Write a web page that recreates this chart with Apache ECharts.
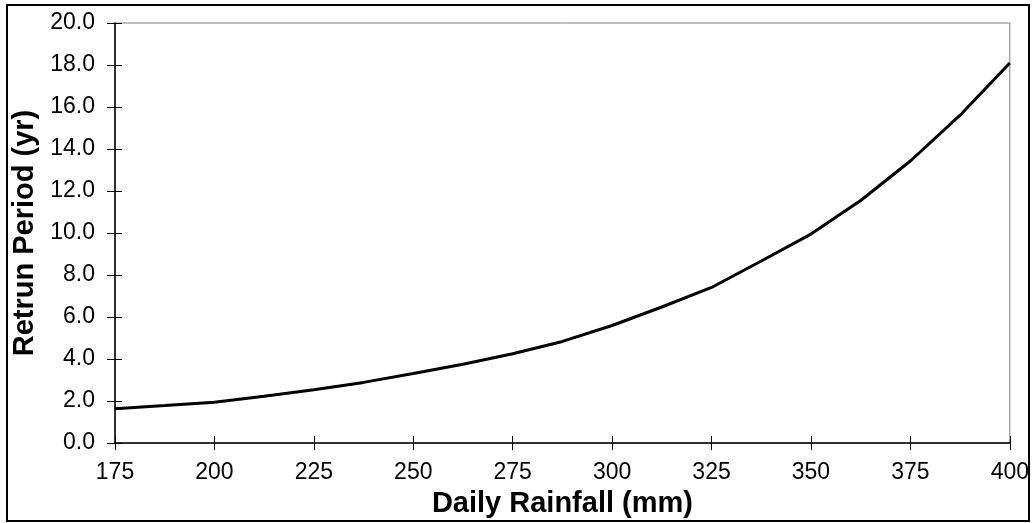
<!DOCTYPE html>
<html>
<head>
<meta charset="utf-8">
<script src="https://cdn.jsdelivr.net/npm/echarts@6/dist/echarts.min.js"></script>
<style>
  html, body { margin: 0; padding: 0; background: #fff; }
  #chart { width: 1032px; height: 523px; }
</style>
</head>
<body>
<div id="chart"></div>
<script>
// 日降雨量 (mm)
const rainfall = [175, 187.5, 200, 212.5, 225, 237.5, 250, 262.5, 275, 287.5, 300, 312.5, 325, 337.5, 350, 362.5, 375, 387.5, 400]
// 重现期 (yr)
const returnPeriod = [1.64, 1.79, 1.95, 2.23, 2.54, 2.89, 3.31, 3.75, 4.25, 4.84, 5.6, 6.48, 7.41, 8.67, 9.95, 11.55, 13.43, 15.61, 18.1]

const fontFamily = '"Liberation Sans", Arial, sans-serif'

let myChart = echarts.init(document.getElementById('chart'))
let points = rainfall.map((x, i) => [x, returnPeriod[i]])

let option = {
    animation: false,
    backgroundColor: '#fff',
    textStyle: { fontFamily: fontFamily },
    graphic: [
        {
            type: 'rect',
            shape: { x: 7, y: 5, width: 1022, height: 516 },
            style: { fill: 'none', stroke: '#000', lineWidth: 2 },
            z: 100
        }
    ],
    grid: {
        left: 115,
        right: 22,
        top: 23,
        bottom: 74,
        show: true,
        borderColor: '#808080',
        borderWidth: 1
    },
    xAxis: [
        {
            type: 'value',
            min: 175,
            max: 400,
            interval: 25,
            position: 'bottom',
            name: 'Daily Rainfall (mm)',
            nameLocation: 'middle',
            nameGap: 37,
            nameTextStyle: { fontSize: 29, fontWeight: 'bold', color: '#000', fontFamily: fontFamily },
            axisLine: { show: true, lineStyle: { color: '#000', width: 1.5 } },
            axisTick: { show: true, length: 7, lineStyle: { color: '#000' } },
            axisLabel: { margin: 18, fontSize: 23, color: '#000', fontFamily: fontFamily },
            splitLine: { show: false }
        },
        {
            // 内侧刻度
            type: 'value',
            min: 175,
            max: 400,
            interval: 25,
            position: 'bottom',
            axisLine: { show: false },
            axisTick: { show: true, inside: true, length: 7, lineStyle: { color: '#000' } },
            axisLabel: { show: false },
            splitLine: { show: false }
        }
    ],
    yAxis: [
        {
            type: 'value',
            min: 0,
            max: 20,
            interval: 2,
            position: 'left',
            name: 'Retrun Period (yr)',
            nameLocation: 'middle',
            nameGap: 68,
            nameTextStyle: { fontSize: 29, fontWeight: 'bold', color: '#000', fontFamily: fontFamily },
            axisLine: { show: true, lineStyle: { color: '#000', width: 1.5 } },
            axisTick: { show: true, length: 8, lineStyle: { color: '#000' } },
            axisLabel: {
                margin: 20,
                fontSize: 23,
                color: '#000',
                fontFamily: fontFamily,
                formatter: (v) => v.toFixed(1)
            },
            splitLine: { show: false }
        },
        {
            type: 'value',
            min: 0,
            max: 20,
            interval: 2,
            position: 'left',
            axisLine: { show: false },
            axisTick: { show: true, inside: true, length: 7, lineStyle: { color: '#000' } },
            axisLabel: { show: false },
            splitLine: { show: false }
        }
    ],
    series: [
        {
            name: 'Return Period',
            type: 'line',
            xAxisIndex: 0,
            yAxisIndex: 0,
            data: points,
            showSymbol: false,
            symbol: 'none',
            lineStyle: { color: '#000', width: 3 }
        }
    ]
}
myChart.setOption(option)
</script>
</body>
</html>
